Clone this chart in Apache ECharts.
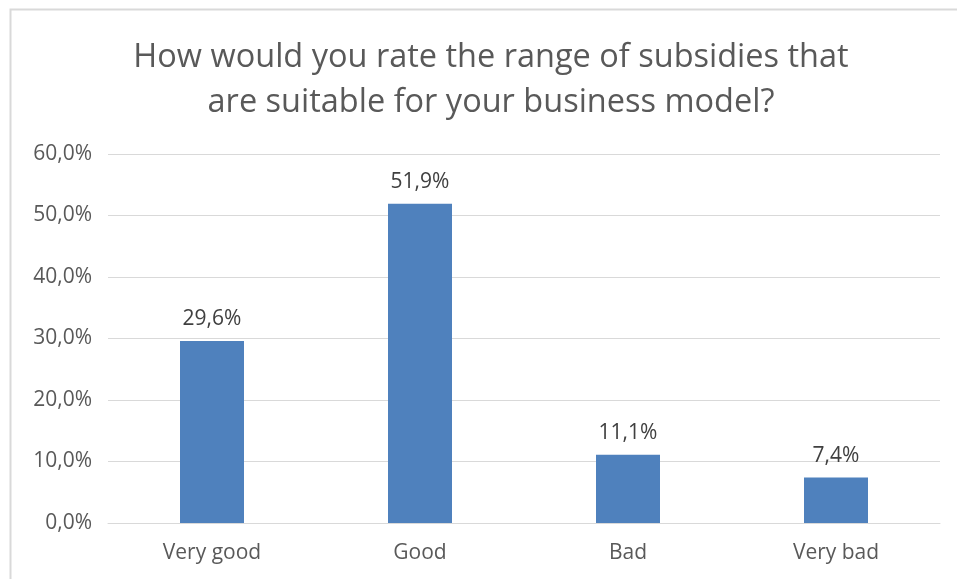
<!DOCTYPE html>
<html lang="en">
<head>
    <meta charset="UTF-8">
    <title>Subsidies rating</title>
    <script src="https://cdn.jsdelivr.net/npm/echarts@6/dist/echarts.min.js"></script>
    <style>
        html, body { margin: 0; padding: 0; background: #fff; }
    </style>
</head>
<body>
    <div id="chart" style="width: 957px; height: 579px;"></div>
    <script>
        // data
        var categories = ['Very good', 'Good', 'Bad', 'Very bad'];
        var shares = [29.6, 51.9, 11.1, 7.4];
        var titleText = 'How would you rate the range of subsidies that\nare suitable for your business model?';

        var fmt = function (v) {
            return v.toFixed(1).replace('.', ',') + '%';
        };

        var chart = echarts.init(document.getElementById('chart'));
        var option = {
            backgroundColor: '#fff',
            textStyle: { fontFamily: 'Open Sans, Liberation Sans, sans-serif' },
            graphic: [
                {
                    type: 'rect',
                    shape: { x: 10.5, y: 9.5, width: 1000, height: 1000 },
                    style: { fill: 'none', stroke: '#d9d9d9', lineWidth: 2 },
                    silent: true
                }
            ],
            title: {
                text: titleText,
                left: 486,
                textAlign: 'center',
                top: 30,
                textStyle: {
                    fontSize: 32.5,
                    fontWeight: 'normal',
                    color: '#595959',
                    lineHeight: 45
                }
            },
            grid: {
                left: 108,
                right: 17,
                top: 154,
                bottom: 56
            },
            xAxis: {
                type: 'category',
                data: categories,
                axisLine: { lineStyle: { color: '#d9d9d9', width: 1 } },
                axisTick: { show: false },
                axisLabel: { color: '#595959', fontSize: 21, margin: 20 }
            },
            yAxis: {
                type: 'value',
                min: 0,
                max: 60,
                interval: 10,
                axisLine: { show: false },
                axisTick: { show: false },
                splitLine: { lineStyle: { color: '#d9d9d9', width: 1 } },
                axisLabel: {
                    color: '#595959',
                    fontSize: 21,
                    margin: 16,
                    formatter: function (v) { return fmt(v); }
                }
            },
            series: [
                {
                    type: 'bar',
                    data: shares,
                    barWidth: 64,
                    itemStyle: { color: '#4f81bd' },
                    label: {
                        show: true,
                        position: 'top',
                        distance: 11,
                        color: '#404040',
                        fontSize: 21,
                        formatter: function (p) { return fmt(p.value); }
                    }
                }
            ]
        };
        chart.setOption(option);
    </script>
</body>
</html>
